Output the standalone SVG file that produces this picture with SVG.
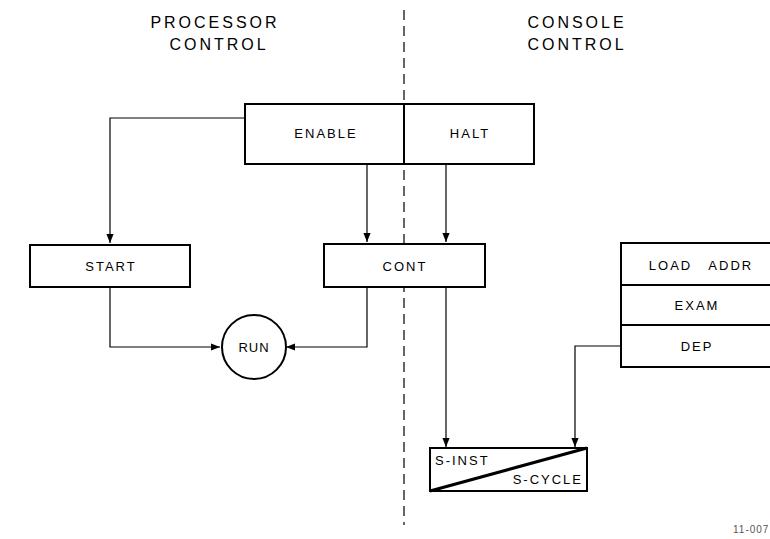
<svg xmlns="http://www.w3.org/2000/svg" width="770" height="539" viewBox="0 0 770 539">
<style>
.box{fill:#fff;stroke:#000;stroke-width:2}
.t{font-family:"Liberation Sans",Arial,sans-serif;font-size:13px;letter-spacing:2px;fill:#000;text-anchor:middle}
.h{font-family:"Liberation Sans",Arial,sans-serif;font-size:16px;letter-spacing:3px;fill:#000;text-anchor:middle}
.c{fill:none;stroke:#000;stroke-width:1.2}
</style>
<defs>
<marker id="a" viewBox="0 0 10 10" refX="10" refY="5" markerWidth="9" markerHeight="9" markerUnits="userSpaceOnUse" orient="auto">
<path d="M0,1 L10,5 L0,9 Z" fill="#000"/>
</marker>
</defs>
<rect width="770" height="539" fill="#fff"/>
<text class="h" x="215" y="28">PROCESSOR</text>
<text class="h" x="219" y="50">CONTROL</text>
<text class="h" x="577" y="28">CONSOLE</text>
<text class="h" x="577" y="50">CONTROL</text>
<line x1="404" y1="10" x2="404" y2="525" stroke="#000" stroke-width="1.2" stroke-dasharray="10,6"/>
<g id="connectors">
<path class="c" d="M245,118 H110 V243" marker-end="url(#a)"/>
<path class="c" d="M367,164 V242" marker-end="url(#a)"/>
<path class="c" d="M446,164 V242" marker-end="url(#a)"/>
<path class="c" d="M110,288 V347 H220" marker-end="url(#a)"/>
<path class="c" d="M367,288 V347 H286" marker-end="url(#a)"/>
<path class="c" d="M446,288 V447" marker-end="url(#a)"/>
<path class="c" d="M621,346 H575 V447" marker-end="url(#a)"/>
</g>
<g id="enable">
<rect class="box" x="245" y="104" width="159" height="60"/>
<text class="t" x="326" y="138">ENABLE</text>
</g>
<g id="halt">
<rect class="box" x="404" y="104" width="130" height="60"/>
<text class="t" x="470" y="138">HALT</text>
</g>
<g id="start">
<rect class="box" x="30" y="245" width="160" height="42"/>
<text class="t" x="111" y="271">START</text>
</g>
<g id="cont">
<rect class="box" x="324" y="244" width="161" height="43"/>
<text class="t" x="405" y="271">CONT</text>
</g>
<g id="run">
<circle cx="254" cy="347" r="32" fill="#fff" stroke="#000" stroke-width="2"/>
<text class="t" x="254" y="352" style="letter-spacing:1px">RUN</text>
</g>
<g id="loadaddr">
<rect class="box" x="621" y="243" width="152" height="42"/>
<text class="t" x="701" y="270" style="white-space:pre">LOAD   ADDR</text>
</g>
<g id="exam">
<rect class="box" x="621" y="285" width="152" height="40"/>
<text class="t" x="697" y="310">EXAM</text>
</g>
<g id="dep">
<rect class="box" x="621" y="325" width="152" height="42"/>
<text class="t" x="697" y="351">DEP</text>
</g>
<g id="sinst">
<rect class="box" x="430" y="448" width="157" height="43"/>
<line x1="430" y1="491" x2="587" y2="448" stroke="#000" stroke-width="3"/>
<text class="t" x="435" y="465" style="text-anchor:start">S-INST</text>
<text class="t" x="583" y="484" style="text-anchor:end">S-CYCLE</text>
</g>
<text x="733" y="533" font-family="'Liberation Sans',Arial,sans-serif" font-size="10" letter-spacing="1" fill="#555">11-007</text>
</svg>
